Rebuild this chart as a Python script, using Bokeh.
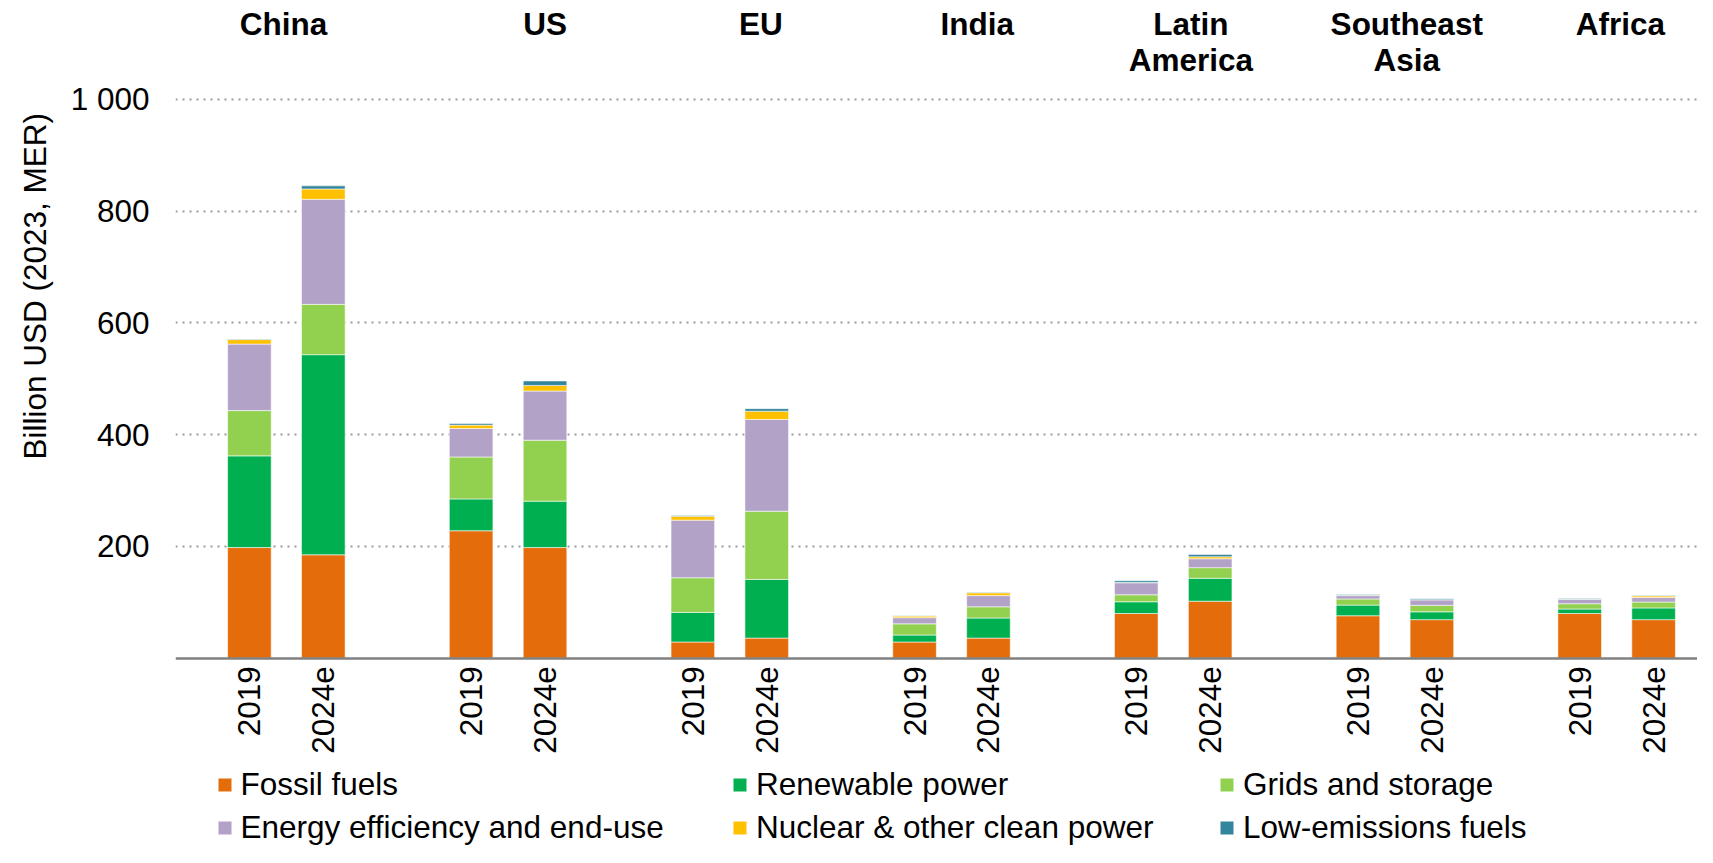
import math
from bokeh.plotting import figure
from bokeh.models import ColumnDataSource, Range1d, FixedTicker, Legend, LegendItem, Label, Title
from bokeh.embed import file_html
from bokeh.resources import INLINE

# ---------------- data ----------------
regions = ["China", "US", "EU", "India", "Latin\nAmerica", "Southeast\nAsia", "Africa"]
years = ["2019", "2024e"]
series_names = ["Fossil fuels", "Renewable power", "Grids and storage",
                "Energy efficiency and end-use", "Nuclear & other clean power",
                "Low-emissions fuels"]

# values in billion USD (2023, MER), order: region x year
fossil     = [198, 185, 228, 198, 29, 36, 29, 36, 80, 102, 76, 69, 80, 69]
renewable  = [164, 358, 57, 83, 53, 105, 12.5, 36, 21, 41, 19, 14, 8, 21]
grids      = [81, 90, 75, 109, 62, 122, 20, 20, 12.5, 19, 11, 11.5, 9.5, 10.5]
efficiency = [119, 188, 51, 88, 103, 164, 11, 20, 21.5, 16, 6, 10, 7.5, 8]
nuclear    = [8, 18.5, 6, 10, 7, 15, 3, 5, 0.5, 3.5, 0.5, 0.3, 0.3, 3]
low_em     = [1, 5.5, 3, 8, 1.5, 4.5, 0.5, 1, 3, 4, 1.5, 1.8, 1.5, 0.5]

y_ticks = [200, 400, 600, 800, 1000]
y_tick_labels = ["200", "400", "600", "800", "1 000"]

# ---------------- styling / layout ----------------
colors = ["#E46C0A", "#00B050", "#92D050", "#B3A2C7", "#FFC000", "#31859C"]
FONT = "Liberation Sans"
FS = "31.5px"
title_offsets = [0.46, 1.0, 0.92, 0.85, 0.74, 0.66, 0.55]   # offset of title from group's first bar

keys = ["fossil", "renewable", "grids", "efficiency", "nuclear", "low_em"]
x_pos = []
x_labels = {}
for g in range(len(regions)):
    for k, yr in enumerate(years):
        xv = g * 3 + k + 1
        x_pos.append(xv)
        x_labels[xv] = yr

source = ColumnDataSource(dict(x=x_pos, fossil=fossil, renewable=renewable, grids=grids,
                               efficiency=efficiency, nuclear=nuclear, low_em=low_em))

p = figure(width=1697, height=847,
           x_range=Range1d(0, 20.594), y_range=Range1d(-338.6, 1176.6),
           output_backend="svg", toolbar_location=None,
           min_border_left=175, min_border_right=0, min_border_top=0, min_border_bottom=0)
p.outline_line_color = None
p.background_fill_color = "white"
p.border_fill_color = "white"

renderers = p.vbar_stack(keys, x="x", width=0.59, color=colors, source=source,
                         line_color="white", line_width=0.8, line_alpha=0.7)

# y axis
p.yaxis.ticker = FixedTicker(ticks=y_ticks)
p.yaxis.major_label_overrides = {t: l for t, l in zip(y_ticks, y_tick_labels)}
p.yaxis.axis_line_color = None
p.yaxis.major_tick_line_color = None
p.yaxis.minor_tick_line_color = None
p.yaxis.major_tick_out = 0
p.yaxis.major_tick_in = 0
p.yaxis.major_label_standoff = 26
p.yaxis.major_label_text_font = FONT
p.yaxis.major_label_text_font_size = FS
p.yaxis.major_label_text_color = "black"

# x axis, drawn at y = 0 inside the frame
p.xaxis.fixed_location = 0
p.xaxis.ticker = FixedTicker(ticks=x_pos)
p.xaxis.major_label_overrides = x_labels
p.xaxis.major_label_orientation = math.pi / 2
p.xaxis.axis_line_color = "#808080"
p.xaxis.axis_line_width = 2.5
p.xaxis.major_tick_line_color = None
p.xaxis.minor_tick_line_color = None
p.xaxis.major_tick_out = 0
p.xaxis.major_tick_in = 0
p.xaxis.major_label_standoff = 8
p.xaxis.major_label_text_font = FONT
p.xaxis.major_label_text_font_size = FS
p.xaxis.major_label_text_color = "black"

# grid
p.xgrid.grid_line_color = None
p.ygrid.ticker = FixedTicker(ticks=y_ticks)
p.ygrid.grid_line_color = "#9a9a9a"
p.ygrid.grid_line_width = 2.2
p.ygrid.grid_line_dash = "2 5"

# region titles
for g, name in enumerate(regions):
    p.add_layout(Label(x=g * 3 + 1 + title_offsets[g], y=1166, x_units="data", y_units="data",
                       text=name, text_align="center", text_baseline="top",
                       text_font=FONT, text_font_style="bold", text_font_size=FS,
                       text_color="black", text_line_height=1.0))

# y axis title
p.add_layout(Title(text="Billion USD (2023, MER)", align="left", vertical_align="middle",
                   offset=388, standoff=28, text_font=FONT, text_font_size=FS,
                   text_font_style="normal", text_color="black"), "left")

# legend: three columns
legend_cols = [[0, 3], [1, 4], [2, 5]]
legend_x = [40.5, 556, 1043]
for col, lx in zip(legend_cols, legend_x):
    items = [LegendItem(label=series_names[i], renderers=[renderers[i]]) for i in col]
    leg = Legend(items=items, location=(lx, 1), orientation="vertical",
                 margin=0, padding=0, spacing=6, border_line_color=None,
                 background_fill_alpha=0, glyph_width=17, glyph_height=17,
                 label_standoff=8, label_height=30,
                 label_text_font=FONT, label_text_font_size=FS, label_text_color="black")
    p.add_layout(leg, "center")

open("out.html", "w").write(file_html(p, INLINE))
